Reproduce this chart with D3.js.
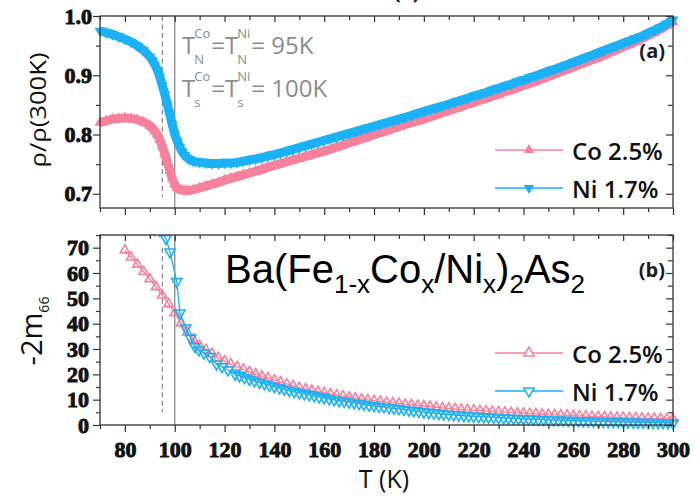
<!DOCTYPE html>
<html><head><meta charset="utf-8">
<script src="https://cdn.jsdelivr.net/npm/d3@7"></script>
<style>
html,body{margin:0;padding:0;background:#fff;}
svg{display:block;}
</style></head>
<body><svg id="chart" width="700" height="496"></svg>
<script>
// ---- data ----
const seriesNames = ["Co 2.5%", "Ni 1.7%"];
const tempTicks = [80, 100, 120, 140, 160, 180, 200, 220, 240, 260, 280, 300];
const tempMinor = [70, 90, 110, 130, 150, 170, 190, 210, 230, 250, 270, 290];
const rhoTicks = [0.7, 0.8, 0.9, 1.0];
const rhoMinor = [0.75, 0.85, 0.95];
const m66Ticks = [0, 10, 20, 30, 40, 50, 60, 70];
const m66Minor = [5, 15, 25, 35, 45, 55, 65, 75];
const transitionTemps = [95, 100]; // T_N (dashed), T_s (solid)

// normalised resistivity rho/rho(300K): [T, value]
const coRho = [[70,0.820],[72.5,0.823],[75,0.826],[77.5,0.827],[80,0.828],[82.5,0.827],[85,0.825],[87.5,0.821],
 [90,0.815],[91,0.811],[92,0.806],[93,0.800],[94,0.791],[95,0.780],[96,0.767],[97,0.753],[98,0.739],[99,0.726],
 [100,0.716],[101,0.710],[102,0.707],[103,0.706],[104,0.705],[105,0.705],[107.5,0.707],[110,0.710],[112.5,0.713],
 [115,0.716],[117.5,0.719],[120,0.723],[122.5,0.726],[125,0.729],[127.5,0.732],[130,0.735],[132.5,0.738],[135,0.741],
 [137.5,0.745],[140,0.748],[142.5,0.751],[145,0.754],[147.5,0.757],[150,0.760],[152.5,0.763],[155,0.766],[157.5,0.769],
 [160,0.772],[162.5,0.775],[165,0.779],[167.5,0.782],[170,0.786],[172.5,0.789],[175,0.793],[177.5,0.796],[180,0.800],
 [182.5,0.803],[185,0.806],[187.5,0.810],[190,0.813],[192.5,0.817],[195,0.820],[197.5,0.823],[200,0.826],[202.5,0.830],
 [205,0.833],[207.5,0.837],[210,0.840],[212.5,0.844],[215,0.847],[217.5,0.851],[220,0.854],[222.5,0.858],[225,0.861],
 [227.5,0.865],[230,0.868],[232.5,0.872],[235,0.875],[237.5,0.879],[240,0.883],[242.5,0.886],[245,0.890],[247.5,0.894],
 [250,0.898],[252.5,0.902],[255,0.906],[257.5,0.910],[260,0.914],[262.5,0.918],[265,0.922],[267.5,0.926],[270,0.930],
 [272.5,0.934],[275,0.939],[277.5,0.943],[280,0.948],[282.5,0.952],[285,0.957],[287.5,0.962],[290,0.967],[292.5,0.972],
 [295,0.978],[297.5,0.984],[300,0.990]];
const niRho = [[70,0.975],[72.5,0.972],[75,0.969],[77.5,0.965],[80,0.961],[82.5,0.956],[85,0.950],[87.5,0.942],
 [90,0.931],[91,0.925],[92,0.918],[93,0.909],[94,0.897],[95,0.883],[96,0.868],[97,0.851],[98,0.834],[99,0.817],
 [100,0.801],[101,0.789],[102,0.779],[103,0.771],[104,0.765],[105,0.761],[106,0.758],[107.5,0.755],[110,0.753],
 [112.5,0.752],[115,0.751],[117.5,0.751],[120,0.752],[122.5,0.752],[125,0.753],[127.5,0.755],[130,0.757],[132.5,0.759],
 [135,0.761],[137.5,0.764],[140,0.766],[142.5,0.769],[145,0.772],[147.5,0.775],[150,0.778],[152.5,0.781],[155,0.784],
 [157.5,0.787],[160,0.790],[162.5,0.793],[165,0.796],[167.5,0.799],[170,0.802],[172.5,0.805],[175,0.808],[177.5,0.811],
 [180,0.814],[182.5,0.817],[185,0.820],[187.5,0.823],[190,0.826],[192.5,0.829],[195,0.832],[197.5,0.836],[200,0.839],
 [202.5,0.842],[205,0.845],[207.5,0.848],[210,0.851],[212.5,0.855],[215,0.858],[217.5,0.861],[220,0.865],[222.5,0.868],
 [225,0.871],[227.5,0.875],[230,0.878],[232.5,0.882],[235,0.885],[237.5,0.889],[240,0.892],[242.5,0.896],[245,0.899],
 [247.5,0.903],[250,0.907],[252.5,0.910],[255,0.914],[257.5,0.918],[260,0.922],[262.5,0.926],[265,0.930],[267.5,0.934],
 [270,0.938],[272.5,0.942],[275,0.946],[277.5,0.950],[280,0.954],[282.5,0.958],[285,0.962],[287.5,0.966],[290,0.971],
 [292.5,0.976],[295,0.981],[297.5,0.987],[300,0.994]];

// elastoresistivity -2m66: [T, value]
const coM66 = [[80,69.0],[82.5,66.2],[85,63.4],[87.5,60.5],[90,57.6],[92.5,54.5],[95,51.2],[97.5,47.8],[100,44.2],
 [102.5,40.2],[105,36.6],[107.5,33.8],[110,31.5],[112.5,29.7],[115,28.1],[117.5,26.6],[120,25.3],[122.5,24.1],[125,23.0],
 [127.5,22.0],[130,21.0],[132.5,20.1],[135,19.3],[137.5,18.5],[140,17.7],[142.5,16.9],[145,16.2],[147.5,15.5],[150,14.8],
 [152.5,14.2],[155,13.7],[157.5,13.2],[160,12.7],[162.5,12.2],[165,11.8],[167.5,11.4],[170,11.0],[172.5,10.6],[175,10.2],
 [177.5,9.9],[180,9.6],[182.5,9.3],[185,9.0],[187.5,8.7],[190,8.5],[192.5,8.2],[195,8.0],[197.5,7.7],[200,7.5],
 [202.5,7.3],[205,7.0],[207.5,6.8],[210,6.6],[212.5,6.4],[215,6.2],[217.5,6.0],[220,5.8],[222.5,5.65],[225,5.5],
 [227.5,5.35],[230,5.2],[232.5,5.05],[235,4.9],[237.5,4.75],[240,4.6],[242.5,4.5],[245,4.4],[247.5,4.25],[250,4.1],
 [252.5,4.0],[255,3.9],[257.5,3.8],[260,3.7],[262.5,3.6],[265,3.5],[267.5,3.4],[270,3.3],[272.5,3.2],[275,3.1],
 [277.5,3.0],[280,2.95],[282.5,2.85],[285,2.8],[287.5,2.7],[290,2.6],[292.5,2.55],[295,2.5],[297.5,2.4],[300,2.35]];
const niM66 = [[86,77.4],[88,77.5],[90,77.4],[92,77.2],[94,76.8],[96.5,73.6],[98.1,68.3],[100.8,56.6],[102.1,44.2],
 [104.4,38.3],[106.4,34.3],[108.1,30.9],[109.7,29.6],[111.7,28.4],[114,27.0],[116.8,24.0],[119,23.0],[121.4,21.7],
 [124.2,20.1],[126,19.4],[128,18.7],[130,18.0],[132,17.4],[134,16.8],[136,16.2],[138,15.6],[140,15.1],[142,14.6],
 [144,14.1],[146,13.6],[148,13.1],[150,12.7],[152,12.3],[154,11.9],[156,11.5],[158,11.1],[160,10.7],[162,10.3],
 [164,9.9],[166,9.6],[168,9.3],[170,9.0],[172,8.7],[174,8.4],[176,8.1],[178,7.8],[180,7.6],[182,7.3],[184,7.1],
 [186,6.8],[188,6.6],[190,6.4],[192,6.1],[194,5.85],[196,5.6],[198,5.35],[200,5.1],[202,4.9],[204,4.7],[206,4.5],
 [208,4.3],[210,4.15],[212,4.0],[214,3.85],[216,3.7],[218,3.55],[220,3.4],[222,3.3],[224,3.2],[226,3.1],[228,3.0],
 [230,2.9],[232,2.8],[234,2.7],[236,2.6],[238,2.5],[240,2.45],[242,2.35],[244,2.3],[246,2.2],[248,2.15],[250,2.05],
 [252,2.0],[254,1.95],[256,1.85],[258,1.8],[260,1.75],[262,1.7],[264,1.6],[266,1.55],[268,1.5],[270,1.45],[272,1.4],
 [274,1.35],[276,1.3],[278,1.25],[280,1.2],[282,1.15],[284,1.1],[286,1.05],[288,1.0],[290,1.0],[292,0.95],[294,0.9],
 [296,0.9],[298,0.85],[300,0.8]];

// ---- layout ----
const colCo = "#f7819c", colNi = "#1bb1f6";
const svg = d3.select("#chart");
const L = 100, R = 673;
const topY0 = 16, topY1 = 208, botY0 = 235, botY1 = 425;

const x = d3.scaleLinear().domain([70, 300]).range([L, R]);
const yTop = d3.scaleLinear().domain([0.676, 1.0]).range([topY1, topY0]);
const yBot = d3.scaleLinear().domain([0, 75]).range([botY1, botY0]);

const sans = '"Open Sans","Noto Sans",sans-serif';
const serif = '"Liberation Serif","Times New Roman",serif';

function styleAxis(sel) {
  sel.select(".domain").remove();
  sel.selectAll(".tick line").attr("stroke", "#333").attr("stroke-width", 1.2);
  sel.selectAll(".tick text")
    .attr("font-family", serif).attr("font-weight", "bold").attr("font-size", 22).attr("fill", "#111")
    .attr("stroke", "#111").attr("stroke-width", 0.9)
    .style("font-family", serif).style("font-weight", "bold").style("font-size", "22px");
}

function frameAxes(yScale, y0, y1, majorY, minorY, yFmt, yPad, xLabels) {
  const g = svg.append("g");
  const minorIn = minorY.filter(v => yScale(v) >= y0 - 0.5);
  // left
  g.append("g").attr("transform", `translate(${L},0)`)
    .call(d3.axisLeft(yScale).tickValues(majorY).tickSize(7).tickPadding(yPad).tickFormat(yFmt)).call(styleAxis);
  g.append("g").attr("transform", `translate(${L},0)`)
    .call(d3.axisLeft(yScale).tickValues(minorIn).tickSize(4).tickFormat("")).call(styleAxis);
  // right (inward)
  g.append("g").attr("transform", `translate(${R},0)`)
    .call(d3.axisRight(yScale).tickValues(majorY).tickSize(-7).tickFormat("")).call(styleAxis);
  g.append("g").attr("transform", `translate(${R},0)`)
    .call(d3.axisRight(yScale).tickValues(minorIn).tickSize(-5).tickFormat("")).call(styleAxis);
  // top (inward)
  g.append("g").attr("transform", `translate(0,${y0})`)
    .call(d3.axisTop(x).tickValues(tempTicks).tickSize(-6).tickFormat("")).call(styleAxis);
  g.append("g").attr("transform", `translate(0,${y0})`)
    .call(d3.axisTop(x).tickValues(tempMinor).tickSize(-4).tickFormat("")).call(styleAxis);
  // bottom (outward)
  g.append("g").attr("transform", `translate(0,${y1})`)
    .call(d3.axisBottom(x).tickValues(tempTicks).tickSize(7).tickPadding(9).tickFormat(xLabels ? d3.format("d") : "")).call(styleAxis);
  g.append("g").attr("transform", `translate(0,${y1})`)
    .call(d3.axisBottom(x).tickValues(tempMinor).tickSize(4).tickFormat("")).call(styleAxis);
  g.append("rect").attr("x", L).attr("y", y0).attr("width", R - L).attr("height", y1 - y0)
    .attr("fill", "none").attr("stroke", "#333").attr("stroke-width", 1.3);
}

function refLines(yScale, dashTop, dashBot, solidTop, solidBot) {
  svg.append("line").attr("x1", x(transitionTemps[0])).attr("x2", x(transitionTemps[0]))
    .attr("y1", yScale(dashTop)).attr("y2", yScale(dashBot))
    .attr("stroke", "#777").attr("stroke-width", 1.1).attr("stroke-dasharray", "5,3.5");
  svg.append("line").attr("x1", x(transitionTemps[1])).attr("x2", x(transitionTemps[1]))
    .attr("y1", yScale(solidTop)).attr("y2", yScale(solidBot))
    .attr("stroke", "#8a8a8a").attr("stroke-width", 1.3);
}

const triUp = d3.symbol(d3.symbolTriangle);

// ---- panel (a): resistivity ----
refLines(yTop, 1.0, 0.695, 1.0, 0.676);
const lineTop = d3.line().x(d => x(d[0])).y(d => yTop(d[1])).curve(d3.curveMonotoneX);
function bandSeries(data, color, down) {
  svg.append("path").datum(data).attr("d", lineTop).attr("fill", "none")
    .attr("stroke", color).attr("stroke-width", 9).attr("stroke-linejoin", "round");
  svg.append("g").selectAll("path").data(data).join("path")
    .attr("d", triUp.size(52)())
    .attr("transform", d => `translate(${x(d[0])},${yTop(d[1])})${down ? " rotate(180)" : ""}`)
    .attr("fill", color);
}
bandSeries(coRho, colCo, false);
bandSeries(niRho, colNi, true);
frameAxes(yTop, topY0, topY1, rhoTicks, rhoMinor, d3.format(".1f"), 1, false);

// ---- panel (b): -2m66 ----
svg.append("clipPath").attr("id", "clipB").append("rect")
  .attr("x", 0).attr("y", botY0).attr("width", 700).attr("height", 496 - botY0);
refLines(yBot, 70, 5, 75, 0);
const lineBot = d3.line().x(d => x(d[0])).y(d => yBot(d[1]));
function openSeries(data, color, down, size) {
  const g = svg.append("g").attr("clip-path", "url(#clipB)");
  g.append("path").datum(data).attr("d", lineBot).attr("fill", "none")
    .attr("stroke", color).attr("stroke-width", 1.3);
  g.selectAll("path.m").data(data).join("path").attr("class", "m")
    .attr("d", triUp.size(size)())
    .attr("transform", d => `translate(${x(d[0])},${yBot(d[1])})${down ? " rotate(180)" : ""}`)
    .attr("fill", "none").attr("stroke", color).attr("stroke-width", 1.6);
}
openSeries(coM66, colCo, false, 38);
openSeries(niM66, colNi, true, 46);
frameAxes(yBot, botY0, botY1, m66Ticks, m66Minor, d3.format("d"), 4, true);

// ---- legends ----
function legend(y0, gap, filled) {
  [colCo, colNi].forEach((c, i) => {
    const y = y0 + i * gap;
    svg.append("line").attr("x1", 495).attr("x2", 563).attr("y1", y).attr("y2", y)
      .attr("stroke", c).attr("stroke-width", 1.6);
    svg.append("path").attr("d", triUp.size(filled ? 48 : 46)())
      .attr("transform", `translate(529,${y})${i === 1 ? " rotate(180)" : ""}`)
      .attr("fill", filled ? c : "#fff").attr("stroke", filled ? "none" : c).attr("stroke-width", 1.6);
    svg.append("text").attr("x", 572).attr("y", y + 10).text(seriesNames[i])
      .style("font-family", sans).style("font-weight", 600).style("font-size", "24px").style("fill", "#111");
  });
}
legend(150, 38, true);
legend(353, 38, false);

// ---- panel tags ----
[["(a)", 58], ["(b)", 277]].forEach(([t, y]) => {
  svg.append("text").attr("x", 665).attr("y", y).attr("text-anchor", "end").text(t)
    .style("font-family", sans).style("font-weight", "bold").style("font-size", "20px").style("fill", "#1a1a30");
});
svg.append("text").attr("x", 394).attr("y", -1.5).text("(a)")
  .style("font-family", sans).style("font-weight", "bold").style("font-size", "20px").style("fill", "#1a1a30");

// ---- transition temperature annotation ----
const ann = svg.append("g").style("font-family", sans).style("fill", "#8c8c8c").style("font-size", "24px");
function tSym(x0, base, sup, sub) {
  const t = ann.append("text").attr("x", x0).attr("y", base).text("T");
  const w = t.node().getComputedTextLength();
  const sp = ann.append("text").attr("x", x0 + w - 1).attr("y", base - 16).style("font-size", "13px").text(sup);
  const sb = ann.append("text").attr("x", x0 + w - 1).attr("y", base + 10).style("font-size", "13px").text(sub);
  return Math.max(x0 + w - 1 + sp.node().getComputedTextLength(), x0 + w - 1 + sb.node().getComputedTextLength());
}
function annLine(base, sub, value) {
  let cx = tSym(182, base, "Co", sub);
  const eq = ann.append("text").attr("x", cx + 1).attr("y", base).text("=");
  cx = cx + 1 + eq.node().getComputedTextLength();
  cx = tSym(cx, base, "Ni", sub);
  ann.append("text").attr("x", cx + 1).attr("y", base).text("= " + value);
}
annLine(54, "N", "95K");
annLine(97, "s", "100K");

// ---- compound formula ----
const f = svg.append("text").attr("x", 225).attr("y", 283)
  .style("font-family", '"Liberation Sans",Arial,sans-serif').style("font-size", "40px").style("fill", "#000");
[["Ba(Fe", 0], ["1-x", 1], ["Co", 0], ["x", 1], ["/Ni", 0], ["x", 1], [")", 0], ["2", 1], ["As", 0], ["2", 1]]
  .forEach(([t, s], i, arr) => {
    const prev = i > 0 ? arr[i - 1][1] : 0;
    const dy = s === prev ? 0 : (s ? 10 : -10);
    f.append("tspan").attr("dy", dy).style("font-size", s ? "26px" : "40px").text(t);
  });

// ---- axis titles ----
svg.append("text").attr("transform", "translate(46,110) rotate(-90)").attr("text-anchor", "middle")
  .attr("textLength", 115).attr("lengthAdjust", "spacingAndGlyphs")
  .style("font-family", sans).style("font-size", "21px").style("fill", "#111").text("ρ/ρ(300K)");
const ml = svg.append("text").attr("transform", "translate(42,331) rotate(-90)").attr("text-anchor", "middle")
  .style("font-family", sans).style("font-size", "29px").style("fill", "#111");
ml.append("tspan").text("-2m");
ml.append("tspan").attr("dy", 7).style("font-size", "14px").text("66");
svg.append("text").attr("x", 384).attr("y", 488).attr("text-anchor", "middle")
  .style("font-family", sans).style("font-size", "25px").style("fill", "#111").text("T (K)");
</script></body></html>
